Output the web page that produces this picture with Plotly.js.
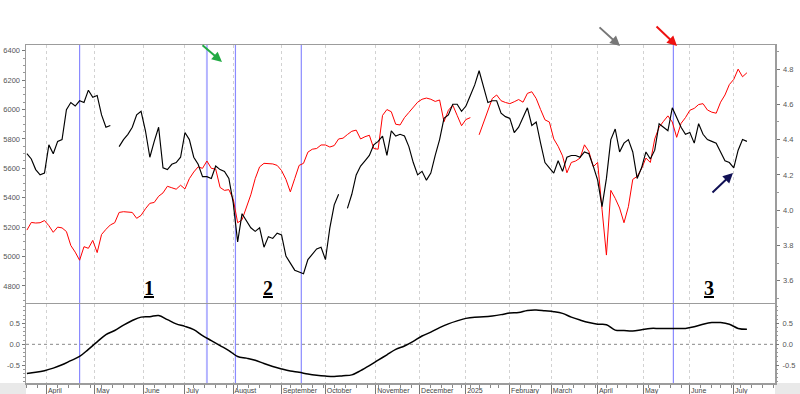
<!DOCTYPE html>
<html>
<head>
<meta charset="utf-8">
<script src="https://cdn.plot.ly/plotly-3.0.1.min.js"></script>
<style>html,body{margin:0;padding:0;background:#fff;}#chart{width:800px;height:394px;}</style>
</head>
<body>
<div id="chart"></div>
<script>
// ---- trading calendar (NYSE holidays in range) ----
const firstDay = '2024-03-18';
const lastDay = '2025-07-31';
const holidays = ['2024-03-29','2024-05-27','2024-06-19','2024-07-04','2024-09-02','2024-11-28','2024-12-25',
  '2025-01-01','2025-01-09','2025-01-20','2025-02-17','2025-04-18','2025-05-26','2025-06-19','2025-07-04'];

// ---- month ticks ----
const monthStarts = ['2024-04-01','2024-05-01','2024-06-03','2024-07-01','2024-08-01','2024-09-03','2024-10-01',
  '2024-11-01','2024-12-02','2025-01-02','2025-02-03','2025-03-03','2025-04-01','2025-05-01','2025-06-02','2025-07-01'];
const monthLabels = ['April','May','June','July','August','September','October','November','December','2025',
  'February','March','April','May','June','July'];

// ---- S&P 500 (left axis, red), every 2nd trading day from 2024-03-18 ----
const sp500 = [5180,5232,5228,5230,5245,5210,5165,5200,5195,5170,
  5075,5030,4975,5067,5056,5110,5027,5150,5185,5215,
  5230,5300,5305,5300,5300,5260,5280,5325,5362,5368,
  5410,5433,5478,5468,5458,5485,5460,5530,5575,5610,
  5600,5650,5600,5595,5470,5450,5455,5390,5230,5250,
  5335,5420,5530,5610,5634,5634,5630,5620,5585,5525,
  5440,5530,5620,5634,5710,5730,5735,5759,5759,5745,
  5755,5800,5805,5830,5852,5860,5800,5815,5825,5735,
  5730,5960,6000,5985,5900,5895,5945,5980,6012,6050,
  6070,6078,6070,6055,6065,5917,5995,6030,5960,5890,
  5932,5945,null,5828,5910,5995,6075,6099,6060,6048,
  6040,6053,6068,6050,6110,6121,6075,6000,5930,5915,
  5800,5750,5685,5570,5640,5650,5670,5760,5715,5611,
  5640,5320,5010,5450,5396,5330,5230,5339,5525,5545,
  5598,5670,5640,5800,5880,5920,5957,5915,5811,5906,
  5945,5995,6008,6034,6040,5997,5982,5975,6050,6099,
  6170,6205,6275,6223,6250];

// ---- US 10-year yield (right axis, black), same dates ----
const yield10 = [4.32,4.29,4.23,4.20,4.21,4.37,4.32,4.39,4.40,4.57,
  4.61,4.59,4.62,4.61,4.68,4.64,4.65,4.54,4.47,4.48,
  null,4.36,4.40,4.43,4.47,4.54,4.56,4.45,4.30,4.39,
  4.47,4.24,4.23,4.26,4.27,4.30,4.44,4.40,4.30,4.26,
  4.19,4.19,4.18,4.25,4.23,4.22,4.18,4.04,3.82,3.98,
  3.94,3.90,3.88,3.90,3.79,3.85,3.84,3.87,3.86,3.74,
  3.70,3.66,3.65,3.64,3.72,3.75,3.78,3.79,3.72,3.90,
  4.03,4.09,null,4.01,4.09,4.20,4.25,4.28,4.31,4.37,
  4.39,4.42,4.31,4.45,4.42,4.43,4.42,4.36,4.27,4.20,
  4.22,4.17,4.21,4.31,4.40,4.52,4.54,4.60,4.60,4.56,
  4.59,4.65,4.71,4.79,4.70,4.61,4.62,4.62,4.55,4.53,
  4.52,4.44,4.47,4.53,4.58,4.48,4.50,4.38,4.27,4.24,
  4.21,4.28,4.22,4.30,4.31,4.31,4.30,4.33,4.32,4.25,
  4.17,4.02,4.18,4.40,4.46,4.33,4.38,4.40,4.33,4.18,
  4.24,4.33,4.29,4.34,4.49,4.47,4.45,4.58,4.52,4.47,
  4.43,4.44,4.38,4.49,4.43,4.40,4.39,4.38,4.33,4.28,
  4.27,4.24,4.34,4.40,4.39];

// ---- rolling correlation (lower panel), every 4th trading day ----
const corr = [-0.70,-0.67,-0.63,-0.57,-0.49,-0.39,-0.29,-0.12,0.06,0.23,
  0.33,0.46,0.57,0.65,0.66,0.69,0.59,0.49,0.43,0.35,
  0.21,0.09,-0.03,-0.15,-0.29,-0.33,-0.38,-0.46,-0.53,-0.59,
  -0.64,-0.67,-0.71,-0.74,-0.76,-0.77,-0.75,-0.73,-0.63,-0.51,
  -0.38,-0.25,-0.12,-0.04,0.07,0.20,0.29,0.40,0.49,0.56,
  0.62,0.65,0.66,0.68,0.71,0.75,0.76,0.81,0.82,0.80,
  0.78,0.74,0.65,0.58,0.52,0.48,0.47,0.34,0.33,0.32,
  0.35,0.38,0.38,0.38,0.38,0.38,0.42,0.48,0.52,0.52,
  0.48,0.38,0.36];

// ---- axis ticks & markers ----
const spTicks = [4800,5000,5200,5400,5600,5800,6000,6200,6400];
const yTicks = [3.6,3.8,4.0,4.2,4.4,4.6,4.8];
const corrTicks = [-0.5,0,0.5];
const corrTickText = ['-0.5','0.0','0.5'];
const eventDates = ['2024-04-22','2024-07-16','2024-08-02','2024-09-16','2025-05-20 12:00'];
const phaseLabels = ['1','2','3'];

// build trading-day list
function tradingDays(a, b) {
  const out = [];
  const d = new Date(a + 'T00:00:00Z');
  const end = new Date(b + 'T00:00:00Z');
  while (d <= end) {
    const s = d.toISOString().slice(0, 10);
    const w = d.getUTCDay();
    if (w !== 0 && w !== 6 && holidays.indexOf(s) < 0) out.push(s);
    d.setUTCDate(d.getUTCDate() + 1);
  }
  return out;
}
const days = tradingDays(firstDay, lastDay);
const dDates = sp500.map((_, i) => days[2 * i]);
const cDates = corr.map((_, j) => days[4 * j]);

const xRange = ['2024-03-15 14:00', '2025-07-28 19:00'];
const rb = [{bounds: ['sat', 'mon']}, {values: holidays}];
const lineCol = '#9c9c9c';
const tickFont = {family: 'Liberation Sans, Arial, sans-serif', size: 7.5, color: '#555'};

const traces = [
  {x: dDates, y: sp500, xaxis: 'x', yaxis: 'y', mode: 'lines', line: {color: '#ff0000', width: 1}, hoverinfo: 'skip'},
  {x: dDates, y: yield10, xaxis: 'x', yaxis: 'y2', mode: 'lines', line: {color: '#000000', width: 1.15}, hoverinfo: 'skip'},
  {x: cDates, y: corr, xaxis: 'x2', yaxis: 'y3', mode: 'lines', line: {color: '#000000', width: 1.5, shape: 'spline'}, hoverinfo: 'skip'},
  {x: cDates, y: corr, xaxis: 'x2', yaxis: 'y4', mode: 'none', hoverinfo: 'skip'}
];

const shapes = [];
eventDates.forEach((d, k) => {
  shapes.push({type: 'line', xref: 'x', yref: 'paper', x0: d, x1: d, y0: 0, y1: 1, layer: 'below',
    line: {color: k === 1 ? '#b4b4ff' : '#8a8aff', width: k === 1 ? 2 : 1.2}});
});
shapes.push({type: 'line', xref: 'paper', yref: 'y3', x0: 0, x1: 1, y0: 0, y1: 0,
  line: {color: '#888', width: 1, dash: 'dot'}, layer: 'below'});
shapes.push({type: 'rect', xref: 'paper', yref: 'paper', x0: -0.0347, x1: 0, y0: -0.0325, y1: 0,
  fillcolor: '#e9e9e9', line: {width: 0}, layer: 'below'});
shapes.push({type: 'rect', xref: 'paper', yref: 'paper', x0: 1, x1: 1.034, y0: -0.0325, y1: 0,
  fillcolor: '#e9e9e9', line: {width: 0}, layer: 'below'});

const labelPos = [0.1642, 0.3227, 0.9123];
const annotations = phaseLabels.map((t, k) => ({
  xref: 'paper', yref: 'paper', x: labelPos[k], y: 0.281, xanchor: 'center', yanchor: 'middle',
  text: '<b><u>' + t + '</u></b>', showarrow: false,
  font: {family: 'Liberation Serif, Times New Roman, serif', size: 20, color: '#000'}
}));
const arrows = [
  {x: 0.2617, y: 0.9497, ax: -21, ay: -18, c: '#22aa44'},
  {x: 0.7931, y: 0.997, ax: -22, ay: -20, c: '#777777'},
  {x: 0.8692, y: 0.997, ax: -22, ay: -21, c: '#ee1111'},
  {x: 0.9439, y: 0.6213, ax: -22, ay: 21, c: '#111155'}
];
arrows.forEach(a => annotations.push({xref: 'paper', yref: 'paper', x: a.x, y: a.y, ax: a.ax, ay: a.ay,
  text: '', showarrow: true, arrowhead: 2, arrowsize: 1, arrowwidth: 2, arrowcolor: a.c}));

const baseX = {type: 'date', range: xRange, rangebreaks: rb, domain: [0, 1], tickvals: monthStarts,
  showgrid: true, gridcolor: '#d2d2d2', griddash: 'dot', gridwidth: 1, zeroline: false,
  showline: true, mirror: true, linecolor: lineCol, linewidth: 1.5};

const layout = {
  width: 800, height: 394,
  margin: {l: 26, r: 25, t: 45, b: 11, pad: 0},
  paper_bgcolor: '#fff', plot_bgcolor: '#fff', showlegend: false,
  font: {family: 'Liberation Sans, Arial, sans-serif', size: 7.5, color: '#555'},
  xaxis: Object.assign({}, baseX, {anchor: 'y', showticklabels: false, ticks: ''}),
  yaxis: {domain: [0.2367, 1], anchor: 'x', range: [4684, 6439], tickvals: spTicks, ticks: 'outside', ticklen: 3,
    tickcolor: '#777', tickfont: tickFont, minor: {dtick: 50, ticks: 'outside', ticklen: 2, tickcolor: '#999', showgrid: false},
    showgrid: false, zeroline: false, showline: true, linecolor: lineCol, linewidth: 1.5},
  yaxis2: {overlaying: 'y', side: 'right', anchor: 'x', range: [3.474, 4.936], tickvals: yTicks, tickformat: '.1f',
    ticks: 'outside', ticklen: 3, tickcolor: '#777', tickfont: tickFont, ticklabelstandoff: 2,
    minor: {dtick: 0.1, ticks: 'outside', ticklen: 2, tickcolor: '#999', showgrid: false},
    showgrid: false, zeroline: false, showline: true, linecolor: lineCol, linewidth: 1.5},
  xaxis2: Object.assign({}, baseX, {anchor: 'y3', ticktext: monthLabels, ticks: 'outside', ticklen: 11, tickcolor: '#777',
    ticklabelposition: 'outside right', tickfont: {family: 'Liberation Sans, Arial, sans-serif', size: 7, color: '#444'},
    minor: {ticks: 'outside', ticklen: 3, tickcolor: '#888', dtick: 604800000, tick0: '2024-03-18', showgrid: false}}),
  yaxis3: {domain: [0, 0.2337], anchor: 'x2', range: [-0.925, 0.964], tickvals: corrTicks, ticktext: corrTickText,
    ticks: 'outside', ticklen: 3, tickcolor: '#777', tickfont: tickFont,
    minor: {dtick: 0.1, ticks: 'outside', ticklen: 2, tickcolor: '#999', showgrid: false},
    showgrid: false, zeroline: false, showline: true, mirror: true, linecolor: lineCol, linewidth: 1.5},
  yaxis4: {overlaying: 'y3', side: 'right', anchor: 'x2', range: [-0.925, 0.964], tickvals: corrTicks, ticktext: corrTickText,
    ticks: 'outside', ticklen: 3, tickcolor: '#777', tickfont: tickFont, ticklabelstandoff: 2,
    minor: {dtick: 0.1, ticks: 'outside', ticklen: 2, tickcolor: '#999', showgrid: false},
    showgrid: false, zeroline: false, showline: false},
  shapes: shapes,
  annotations: annotations
};

Plotly.newPlot('chart', traces, layout, {displayModeBar: false, staticPlot: true});
</script>
</body>
</html>
